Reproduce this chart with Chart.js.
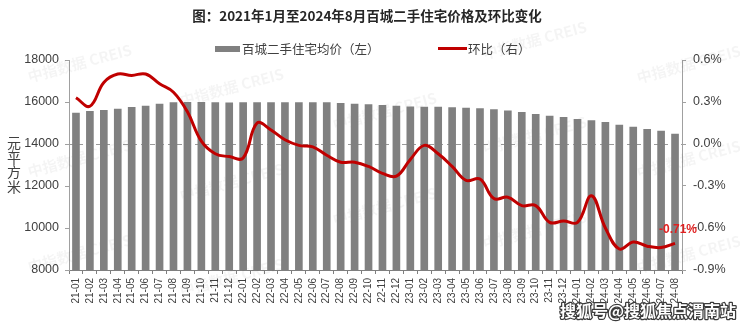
<!DOCTYPE html>
<html>
<head>
<meta charset="utf-8">
<script src="https://cdn.jsdelivr.net/npm/chart.js@4/dist/chart.umd.min.js"></script>
<style>
  html, body { margin: 0; padding: 0; background: #ffffff; }
  #wrap { width: 740px; height: 327px; position: relative; }
</style>
</head>
<body>
<div id="wrap"><canvas id="chart"></canvas></div>
<script>
// Months, 2021-01 .. 2024-08
const months = [
  '21-01','21-02','21-03','21-04','21-05','21-06','21-07','21-08','21-09','21-10','21-11','21-12',
  '22-01','22-02','22-03','22-04','22-05','22-06','22-07','22-08','22-09','22-10','22-11','22-12',
  '23-01','23-02','23-03','23-04','23-05','23-06','23-07','23-08','23-09','23-10','23-11','23-12',
  '24-01','24-02','24-03','24-04','24-05','24-06','24-07','24-08'
];

// 百城二手住宅均价（元/平方米）
const avgPrice = [
  15490, 15570, 15620, 15680, 15760, 15820, 15920, 15985, 16000, 16000, 15990, 15980,
  15985, 15985, 15985, 15985, 15985, 15985, 15985, 15950, 15920, 15890, 15860, 15820,
  15790, 15770, 15770, 15745, 15730, 15700, 15650, 15600, 15520, 15430, 15350, 15290,
  15190, 15130, 15050, 14920, 14825, 14710, 14635, 14490
];

// 环比（%）
const momChange = [
   0.33,  0.27,  0.44,  0.50,  0.49,  0.50,  0.43,  0.37,  0.23,  0.02, -0.07, -0.09,
  -0.10,  0.15,  0.10,  0.03, -0.01, -0.02, -0.08, -0.13, -0.13, -0.16, -0.21, -0.23,
  -0.11, -0.01, -0.07, -0.16, -0.26, -0.25, -0.39, -0.38, -0.44, -0.44, -0.56, -0.55,
  -0.56, -0.37, -0.60, -0.75, -0.70, -0.73, -0.74, -0.71
];

const priceRange = [8000, 18000, 2000];   // min, max, step (left axis)
const changeRange = [-0.9, 0.6, 0.3];     // min, max, step (right axis, %)

const titleText = '图：2021年1月至2024年8月百城二手住宅价格及环比变化';
const seriesNames = ['百城二手住宅均价（左）', '环比（右）'];
const unitChars = ['元', '平', '方', '米'];
const markText = '中指数据 CREIS';
const sourceText = '搜狐号@搜狐焦点渭南站';

const BAR_COLOR = '#808080';
const LINE_COLOR = '#c00000';
const TEXT_COLOR = '#404040';
const AXIS_COLOR = '#a0a0a0';
const LATIN = '"Liberation Sans", Arial, sans-serif';
const CJK = '"Noto Sans CJK SC", "Noto Sans", sans-serif';

const LINE_INDEX = 0;

const decor = {
  id: 'decor',
  beforeDatasetsDraw(chart) {
    // faint tiled watermark behind the bars
    const ctx = chart.ctx;
    ctx.save();
    ctx.font = 'bold 15px ' + CJK;
    ctx.fillStyle = 'rgba(0,0,0,0.045)';
    ctx.textAlign = 'left';
    ctx.textBaseline = 'middle';
    const cols = [28, 180, 333, 483, 637];
    cols.forEach((x, i) => {
      const base = 65 + 24 * i;
      for (let k = -2; k <= 2; k++) {
        const y = base + 95 * k;
        if (y < 30 || y > 300) continue;
        ctx.save();
        ctx.translate(x, y + 12);
        ctx.rotate(-15 * Math.PI / 180);
        ctx.fillText(markText, 0, 0);
        ctx.restore();
      }
    });
    ctx.restore();
  },
  afterDraw(chart) {
    const ctx = chart.ctx;
    ctx.save();

    // title
    ctx.font = 'bold 13.5px ' + CJK;
    ctx.fillStyle = '#262626';
    ctx.textAlign = 'center';
    ctx.textBaseline = 'middle';
    ctx.fillText(titleText, 367, 16);

    // legend
    ctx.font = '12.5px ' + CJK;
    ctx.textAlign = 'left';
    ctx.fillStyle = BAR_COLOR;
    ctx.fillRect(215, 46, 25, 6);
    ctx.fillStyle = TEXT_COLOR;
    ctx.fillText(seriesNames[0], 242, 49);
    ctx.strokeStyle = LINE_COLOR;
    ctx.lineWidth = 3;
    ctx.beginPath();
    ctx.moveTo(438, 48.5);
    ctx.lineTo(467, 48.5);
    ctx.stroke();
    ctx.fillText(seriesNames[1], 468, 49);

    // vertical unit label of the left axis
    ctx.font = '14px ' + CJK;
    ctx.textAlign = 'center';
    const ys = [143, 158, 172, 187];
    unitChars.forEach((ch, i) => ctx.fillText(ch, 14, ys[i]));
    ctx.font = '10px ' + LATIN;
    ctx.fillText('/', 13, 151);

    // value label on the latest point of the 环比 line
    const meta = chart.getDatasetMeta(LINE_INDEX);
    const last = meta.data[meta.data.length - 1];
    const lastVal = momChange[momChange.length - 1];
    ctx.font = 'bold 12px ' + LATIN;
    ctx.fillStyle = '#e02020';
    ctx.textAlign = 'center';
    ctx.fillText(lastVal.toFixed(2) + '%', last.x + 3, last.y - 14);

    // source mark
    ctx.font = 'bold 16px ' + CJK;
    ctx.textAlign = 'left';
    ctx.lineJoin = 'round';
    ctx.lineWidth = 2.5;
    ctx.strokeStyle = '#3a3a3a';
    ctx.strokeText(sourceText, 560, 311);
    ctx.fillStyle = '#ffffff';
    ctx.fillText(sourceText, 560, 311);

    ctx.restore();
  }
};

new Chart(document.getElementById('chart'), {
  data: {
    labels: months,
    datasets: [
      {
        type: 'line',
        label: seriesNames[1],
        data: momChange,
        yAxisID: 'y1',
        borderColor: LINE_COLOR,
        borderWidth: 3,
        pointRadius: 0,
        tension: 0.4,
        order: 1
      },
      {
        type: 'bar',
        label: seriesNames[0],
        data: avgPrice,
        yAxisID: 'y',
        backgroundColor: BAR_COLOR,
        barPercentage: 0.55,
        categoryPercentage: 1,
        order: 2
      }
    ]
  },
  options: {
    responsive: true,
    maintainAspectRatio: false,
    animation: false,
    devicePixelRatio: 1,
    layout: { padding: { top: 60, left: 0, right: 0, bottom: 0 } },
    plugins: {
      legend: { display: false },
      title: { display: false },
      tooltip: { enabled: false }
    },
    scales: {
      x: {
        offset: true,
        grid: { drawOnChartArea: false, offset: true, tickLength: 4, color: '#7f7f7f' },
        border: { color: '#7f7f7f', width: 1 },
        ticks: {
          autoSkip: false, minRotation: 90, maxRotation: 90, padding: 4,
          color: TEXT_COLOR, font: { family: LATIN, size: 10 }
        },
        afterFit(s) { s.height = 57; }
      },
      y: {
        position: 'left',
        min: priceRange[0], max: priceRange[1],
        grid: { drawOnChartArea: false, tickLength: 4, color: AXIS_COLOR },
        border: { color: AXIS_COLOR },
        ticks: {
          stepSize: priceRange[2], padding: 6,
          color: TEXT_COLOR, font: { family: LATIN, size: 12.5 },
          callback: v => String(v)
        },
        afterFit(s) { s.width = 69; }
      },
      y1: {
        position: 'right',
        min: changeRange[0], max: changeRange[1],
        grid: {
          drawOnChartArea: true, tickLength: 4,
          color: c => (c.tick && c.tick.value === 0 ? '#9a9a9a' : 'rgba(0,0,0,0)'),
          tickColor: AXIS_COLOR
        },
        border: { color: AXIS_COLOR, dash: [5, 4] },
        ticks: {
          stepSize: changeRange[2], padding: 7,
          color: TEXT_COLOR, font: { family: LATIN, size: 12.5 },
          callback: v => v.toFixed(1) + '%'
        },
        afterFit(s) { s.width = 58; }
      }
    }
  },
  plugins: [decor]
});
</script>
</body>
</html>
